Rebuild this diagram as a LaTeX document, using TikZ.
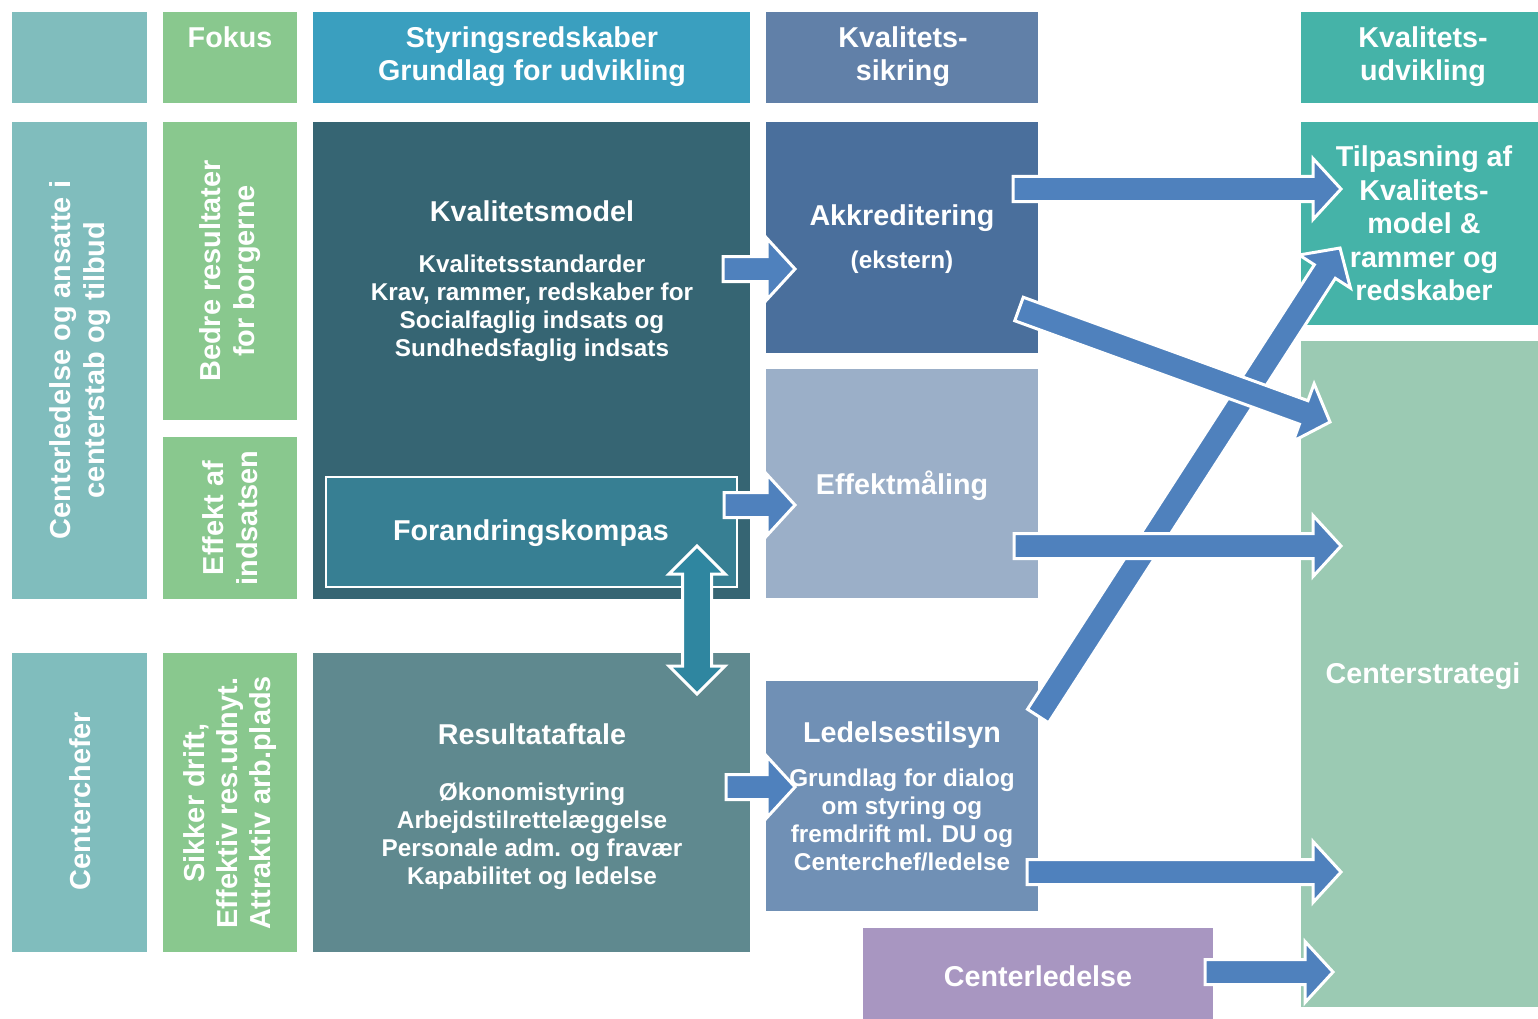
\documentclass[tikz,border=0pt]{standalone}
\usepackage{fontspec}
\setmainfont{Liberation Sans}
\usetikzlibrary{calc}
\definecolor{cTeal}{HTML}{80BDBD}
\definecolor{cGreen}{HTML}{89C88E}
\definecolor{cStyr}{HTML}{3A9FBF}
\definecolor{cSikr}{HTML}{6180A8}
\definecolor{cUdv}{HTML}{45B3A8}
\definecolor{cKvm}{HTML}{366573}
\definecolor{cForand}{HTML}{377F93}
\definecolor{cRes}{HTML}{5F898F}
\definecolor{cAkk}{HTML}{4A6F9C}
\definecolor{cEff}{HTML}{9BAFC8}
\definecolor{cLed}{HTML}{7090B5}
\definecolor{cCled}{HTML}{A896C1}
\definecolor{cStrat}{HTML}{9BCAB3}
\definecolor{cArrow}{HTML}{4F81BD}
\definecolor{cDarrow}{HTML}{2F86A0}
\newcommand\mybox[6]{\node[bxs, fill=#6, minimum width={(#4-#2)*1pt}, minimum height={(#5-#3)*1pt}, anchor=north west] (#1) at (#2,#3) {};}
% block arrow from #1 to #2, name prefix #3
\newcommand\blockarrow[3]{%
  \path ($(#2)!28pt!(#1)$) coordinate (#3c);
  \draw[barrow] ($(#1)!12.5pt!90:(#2)$) -- ($(#3c)!12.5pt!90:(#2)$) -- ($(#3c)!30.5pt!90:(#2)$) -- (#2)
    -- ($(#3c)!30.5pt!-90:(#2)$) -- ($(#3c)!12.5pt!-90:(#2)$) -- ($(#1)!12.5pt!-90:(#2)$) -- cycle;}
\begin{document}
\begin{tikzpicture}[x=1pt,y=-1pt,
  bxs/.style={rectangle, inner sep=0pt, outer sep=0pt, draw=none},
  t28/.style={font=\fontsize{28.7}{33}\selectfont\bfseries, text=white, align=center, inner sep=0pt},
  t24/.style={font=\fontsize{24.3}{28}\selectfont\bfseries, text=white, align=center, inner sep=0pt},
  rot/.style={t28, rotate=90, font=\fontsize{28.9}{34}\selectfont\bfseries},
  barrow/.style={draw=white, line width=3pt, fill=cArrow, line join=miter},
  darrow/.style={draw=white, line width=3pt, fill=cDarrow, line join=miter}]
\useasboundingbox (0,0) rectangle (1538,1019);
\fill[white] (0,0) rectangle (1538,1019);
% header row
\mybox{hA}{12}{12}{147}{103}{cTeal}
\mybox{hB}{163}{12}{297}{103}{cGreen}
\mybox{hC}{313}{12}{750}{103}{cStyr}
\mybox{hD}{766}{12}{1038}{103}{cSikr}
\mybox{hF}{1301}{12}{1545}{103}{cUdv}
% left columns
\mybox{lA1}{12}{122}{147}{599}{cTeal}
\mybox{lA2}{12}{653}{147}{952}{cTeal}
\mybox{lB1}{163}{122}{297}{420}{cGreen}
\mybox{lB2}{163}{437}{297}{599}{cGreen}
\mybox{lB3}{163}{653}{297}{952}{cGreen}
% main boxes
\mybox{kvm}{313}{122}{750}{599}{cKvm}
\node[bxs, fill=cForand, draw=white, line width=1.5pt, minimum width=411pt, minimum height=110pt, anchor=north west] (fk) at (326,477) {};
\mybox{res}{313}{653}{750}{952}{cRes}
\mybox{akk}{766}{122}{1038}{353}{cAkk}
\mybox{eff}{766}{369}{1038}{598}{cEff}
\mybox{led}{766}{681}{1038}{911}{cLed}
\mybox{cled}{863}{928}{1213}{1025}{cCled}
\mybox{tilp}{1301}{122}{1545}{325}{cUdv}
\mybox{strat}{1301}{341}{1545}{1007}{cStrat}
% header texts
\node[t28, anchor=north] (tB) at (230,27) {Fokus};
\node[t28, anchor=north] (tC) at (532,27) {Styringsredskaber\\Grundlag for udvikling};
\node[t28, anchor=north] (tD) at (903,27) {Kvalitets-\\sikring};
\node[t28, anchor=north] (tF) at (1423,27) {Kvalitets-\\udvikling};
% rotated texts
\node[rot] (tA1) at (80,360) {Centerledelse og ansatte i\\centerstab og tilbud};
\node[rot] (tB1) at (230,271) {Bedre resultater\\for borgerne};
\node[rot] (tB2) at (230,518) {Effekt af\\indsatsen};
\node[rot] (tA2) at (80,801) {Centerchefer};
\node[rot, font=\fontsize{28.9}{33}\selectfont\bfseries] (tB3) at (230,803) {Sikker drift,\\Effektiv res.udnyt.\\Attraktiv arb.plads};
% main texts
\node[t28] (tKvm) at (532,211) {Kvalitetsmodel};
\node[t24, anchor=north] (sKvm) at (532,255) {Kvalitetsstandarder\\Krav, rammer, redskaber for\\Socialfaglig indsats og\\Sundhedsfaglig indsats};
\node[t28] (tFk) at (531,533) {Forandringskompas};
\node[t28] (tRes) at (532,734) {Resultataftale};
\node[t24, anchor=north] (sRes) at (532,783) {Økonomistyring\\Arbejdstilrettelæggelse\\Personale adm. og fravær\\Kapabilitet og ledelse};
\node[t28] (tAkk) at (902,218) {Akkreditering};
\node[t24] (sAkk) at (902,262) {(ekstern)};
\node[t28] (tEff) at (902,486) {Effektmåling};
\node[t28] (tLed) at (902,735) {Ledelsestilsyn};
\node[t24, anchor=north] (sLed) at (902,769) {Grundlag for dialog\\om styring og\\fremdrift ml. DU og\\Centerchef/ledelse};
\node[t28] (tCled) at (1038,976) {Centerledelse};
\node[t28] (tStrat) at (1423,676) {Centerstrategi};
% arrow coordinates
\coordinate (a1s) at (723,269);  \coordinate (a1e) at (795,269);
\coordinate (a2s) at (724,505);  \coordinate (a2e) at (795,505);
\coordinate (a3s) at (726,787);  \coordinate (a3e) at (795,787);
\coordinate (a5s) at (1013,189); \coordinate (a5e) at (1341,189);
\coordinate (a6s) at (1019,309); \coordinate (a6e) at (1330,422);
\coordinate (a7s) at (1038,716); \coordinate (a7e) at (1340,248);
\coordinate (a8s) at (1014,546); \coordinate (a8e) at (1341,546);
\coordinate (a9s) at (1027,872); \coordinate (a9e) at (1341,872);
\coordinate (a10s) at (1205,972); \coordinate (a10e) at (1333,972);
\blockarrow{a1s}{a1e}{a1}
\blockarrow{a2s}{a2e}{a2}
\blockarrow{a3s}{a3e}{a3}
\blockarrow{a7s}{a7e}{a7}
\blockarrow{a6s}{a6e}{a6}
\blockarrow{a8s}{a8e}{a8}
\blockarrow{a5s}{a5e}{a5}
\blockarrow{a9s}{a9e}{a9}
\blockarrow{a10s}{a10e}{a10}
% double arrow
\coordinate (dT) at (697,546); \coordinate (dU) at (697,694);
\path ($(dT)!28pt!(dU)$) coordinate (dC1) ($(dU)!28pt!(dT)$) coordinate (dC2);
\draw[darrow] (dT) -- ($(dC1)!28pt!90:(dU)$) -- ($(dC1)!14.5pt!90:(dU)$) -- ($(dC2)!14.5pt!-90:(dT)$) -- ($(dC2)!28pt!-90:(dT)$) -- (dU)
  -- ($(dC2)!28pt!90:(dT)$) -- ($(dC2)!14.5pt!90:(dT)$) -- ($(dC1)!14.5pt!-90:(dU)$) -- ($(dC1)!28pt!-90:(dU)$) -- cycle;
% text on top of arrows
\node[t28, anchor=north, font=\fontsize{28.7}{33.5}\selectfont\bfseries] (tTilp) at (1424,146) {Tilpasning af\\Kvalitets-\\model \&\\rammer og\\redskaber};
\end{tikzpicture}
\end{document}
